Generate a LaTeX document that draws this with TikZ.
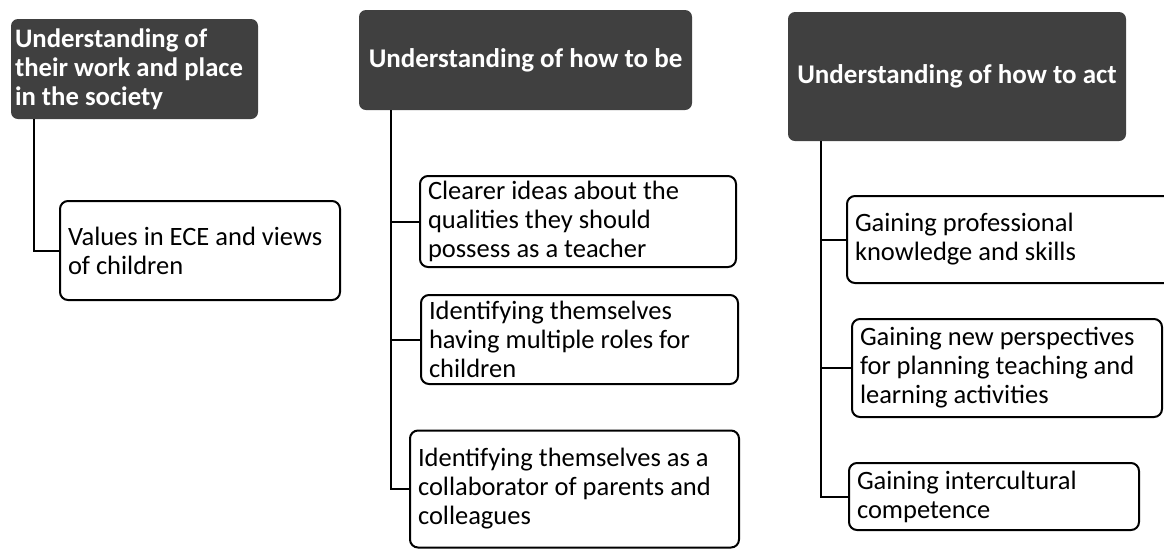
\documentclass[tikz,border=0pt]{standalone}
\usepackage{fontspec}
\setmainfont{Carlito}
\definecolor{hdr}{HTML}{404040}
\begin{document}
\begin{tikzpicture}[x=1pt,y=-1pt,
  every node/.style={execute at begin node={\spaceskip=0pt\xspaceskip=0pt}},
  hdrbox/.style={fill=hdr, text=white, rounded corners=7pt, inner sep=0pt,
    font=\bfseries\fontsize{27}{29}\selectfont},
  itembox/.style={draw=black, line width=2pt, fill=white, rounded corners=8pt,
    inner xsep=8pt, inner ysep=0pt, align=left,
    font=\fontsize{26.5}{29}\selectfont},
  conn/.style={draw=black, line width=2pt}
]
\useasboundingbox (0,0) rectangle (1164,550);
\clip (0,0) rectangle (1164,550);

% headers
\node[hdrbox, minimum width=247pt, minimum height=100pt, text width=239pt, align=left,
  font=\bfseries\fontsize{26.7}{29}\selectfont]
  (h1) at (134.5,69) {Understanding of\\their work and place\\in the society};
\node[hdrbox, minimum width=333pt, minimum height=100pt, align=center]
  (h2) at (525.5,60) {Understanding of how to be};
\node[hdrbox, minimum width=338pt, minimum height=129pt, align=center]
  (h3) at (957,76.5) {Understanding of how to act};

% items
\node[itembox, minimum width=280pt, minimum height=99pt, text width=264pt]
  (b1) at (200,250.5) {Values in ECE and views\\of children};

\node[itembox, minimum width=316pt, minimum height=91pt, text width=300pt]
  (b2a) at (578,221.5) {Clearer ideas about the\\qualities they should\\possess as a teacher};
\node[itembox, minimum width=317pt, minimum height=89pt, text width=301pt]
  (b2b) at (579.5,339.5) {Identifying themselves\\having multiple roles for\\children};
\node[itembox, minimum width=329pt, minimum height=117pt, text width=313pt]
  (b2c) at (574.5,489) {Identifying themselves as a\\collaborator of parents and\\colleagues};

\node[itembox, minimum width=328pt, minimum height=87pt, text width=312pt]
  (b3a) at (1011,239.5) {Gaining professional\\knowledge and skills};
\node[itembox, minimum width=310pt, minimum height=98pt, text width=294pt]
  (b3b) at (1007,368) {Gaining new perspectives\\for planning teaching and\\learning activities};
\node[itembox, minimum width=290pt, minimum height=67pt, text width=274pt]
  (b3c) at (994,496.5) {Gaining intercultural\\competence};

% connectors
\path (h1.south west) ++(23,0) coordinate (s1);
\path (h2.south west) ++(32,0) coordinate (s2);
\path (h3.south west) ++(33,0) coordinate (s3);

\draw[conn] (s1) |- (b1.west);

\draw[conn] (s2) |- (b2c.west);
\draw[conn] (s2 |- b2a.west) -- (b2a.west);
\draw[conn] (s2 |- b2b.west) -- (b2b.west);

\draw[conn] (s3) |- (b3c.west);
\draw[conn] (s3 |- b3a.west) -- (b3a.west);
\draw[conn] (s3 |- b3b.west) -- (b3b.west);
\end{tikzpicture}
\end{document}
